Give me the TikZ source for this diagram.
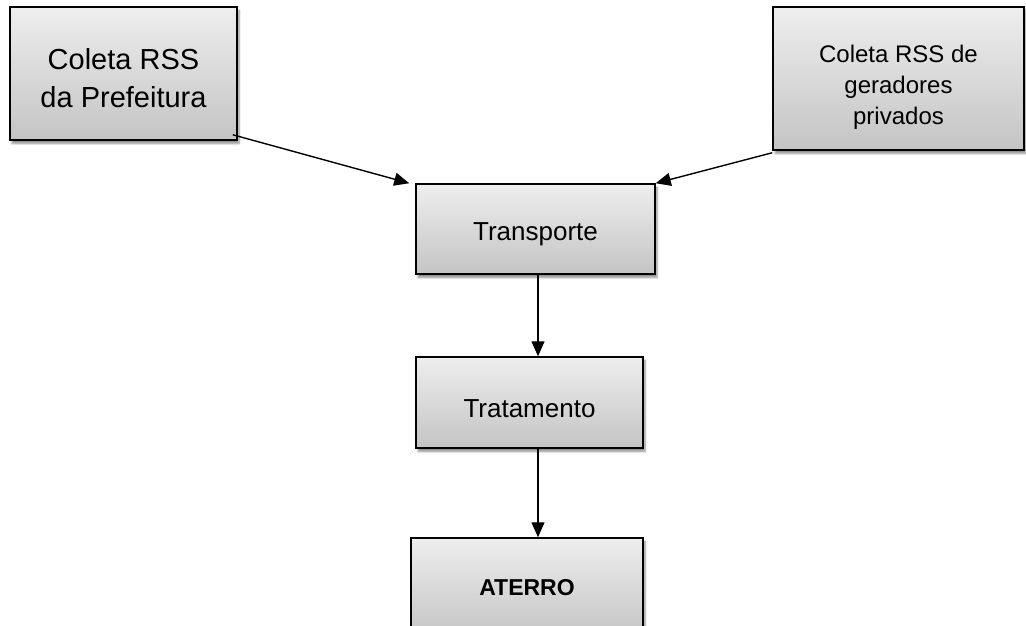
\documentclass[tikz,border=0pt]{standalone}
\usepackage{fontspec}
\setmainfont{Liberation Sans}
\usetikzlibrary{arrows.meta,shadows.blur,calc}
\definecolor{boxtop}{RGB}{238,238,238}
\definecolor{boxbot}{RGB}{196,196,196}
\tikzset{
  box/.style={draw=black, line width=1.5pt, rectangle, inner sep=0pt,
    top color=boxtop, bottom color=boxbot,
    blur shadow={shadow xshift=2pt, shadow yshift=-3.5pt, shadow opacity=45, shadow blur steps=6}},
  lbl/.style={align=center, inner sep=0pt, text=black},
  arr/.style={draw=black, line width=1.4pt, -{Triangle[length=15pt,width=13pt]}}
}
\begin{document}
\begin{tikzpicture}[x=1pt,y=-1pt]
\useasboundingbox (0,0) rectangle (1026,625);
\node[box, minimum width=227pt, minimum height=133pt,
  label={[lbl, yshift=-5pt, font=\fontsize{29}{38}\selectfont]center:{Coleta RSS\\da Prefeitura}}]
  (p1) at (123.5,73.5) {};
\node[box, minimum width=251pt, minimum height=143pt,
  label={[lbl, yshift=-9pt, font=\fontsize{24}{31}\selectfont]center:{Coleta RSS de\\geradores\\privados}}]
  (p2) at (898.5,78.5) {};
\node[box, minimum width=239pt, minimum height=90pt,
  label={[lbl, yshift=-5pt, font=\fontsize{26}{30}\selectfont]center:{Transporte}}]
  (t) at (535.5,229) {};
\node[box, minimum width=227pt, minimum height=91pt,
  label={[lbl, yshift=-6pt, font=\fontsize{26}{30}\selectfont]center:{Tratamento}}]
  (tr) at (529.5,402.5) {};
\node[box, minimum width=232pt, minimum height=100pt,
  label={[lbl, yshift=0pt, font=\fontsize{23}{28}\selectfont\bfseries]center:{ATERRO}}]
  (at) at (527,588) {};
\coordinate (xa) at (538,0);
\draw[arr] ($(p1.south east)+(-5,-6)$) -- ($(t.north west)+(-6,0)$);
\draw[arr] ($(p2.south west)+(0,2)$) -- (t.north east);
\draw[arr] (t.south -| xa) -- (tr.north -| xa);
\draw[arr] (tr.south -| xa) -- (at.north -| xa);
\end{tikzpicture}
\end{document}
